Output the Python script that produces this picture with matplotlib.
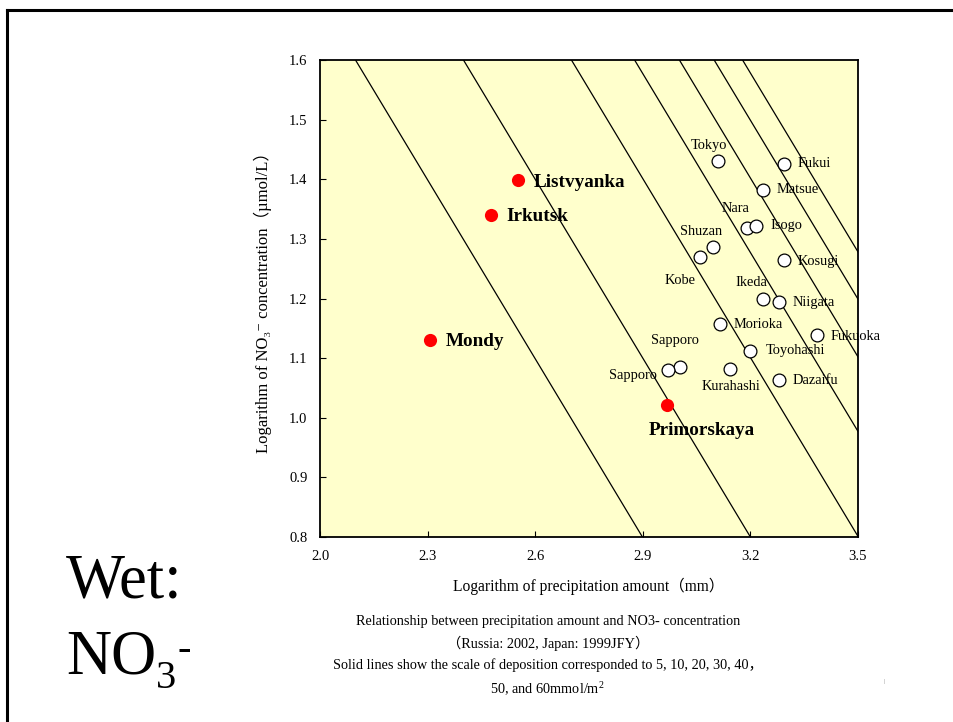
import matplotlib
matplotlib.use("Agg")
import matplotlib.pyplot as plt
from matplotlib.lines import Line2D
import numpy as np

SERIF = ["Liberation Serif", "Noto Sans CJK JP", "DejaVu Sans"]
plt.rcParams.update({
    "font.family": SERIF,
    "mathtext.fontset": "custom",
    "mathtext.rm": "Liberation Serif",
    "mathtext.it": "Liberation Serif:italic",
    "mathtext.bf": "Liberation Serif:bold",
})

# Russian sites (2002)
russia_sites = ["Listvyanka", "Irkutsk", "Mondy", "Primorskaya"]
russia_logp = [2.552, 2.477, 2.307, 2.967]
russia_logc = [1.399, 1.340, 1.130, 1.021]

# Japanese sites (1999 JFY)
japan_sites = ["Tokyo", "Fukui", "Matsue", "Nara", "Isogo", "Shuzan", "Kobe",
               "Kosugi", "Ikeda", "Niigata", "Morioka", "Fukuoka", "Toyohashi",
               "Sapporo", "Sapporo", "Kurahashi", "Dazaifu"]
japan_logp = [3.110, 3.294, 3.235, 3.190, 3.216, 3.096, 3.059,
              3.294, 3.235, 3.280, 3.115, 3.386, 3.199,
              3.004, 2.970, 3.143, 3.280]
japan_logc = [1.431, 1.426, 1.382, 1.318, 1.322, 1.286, 1.270,
              1.265, 1.199, 1.194, 1.157, 1.139, 1.112,
              1.085, 1.080, 1.082, 1.063]

# deposition isolines, mmol/m2
deposition = [5, 10, 20, 30, 40, 50, 60]

x_ticks = [2.0, 2.3, 2.6, 2.9, 3.2, 3.5]
y_ticks = [0.8, 0.9, 1.0, 1.1, 1.2, 1.3, 1.4, 1.5, 1.6]

# label offsets in points: (dx, dy, ha)
russia_offsets = [(11, -2, "left"), (11, -1, "left"), (11, -1, "left"), (25, -18, "center")]
japan_offsets = [(-7, 11, "center"), (10, 0, "left"), (10, 0, "left"), (-8, 14, "center"),
                 (10, 0, "left"), (-9, 11, "center"), (-14, -17, "center"), (10, -1, "left"),
                 (-8, 12, "center"), (10, 0, "left"), (10, 0, "left"), (10, -1, "left"),
                 (11, 0, "left"), (-4, 19, "center"), (-8, -4, "right"), (1, -13, "center"),
                 (10, 0, "left")]

W, H = 954, 722
fig = plt.figure(figsize=(W / 100, H / 100), dpi=100)
fig.patch.set_facecolor("white")

ax = fig.add_axes([320 / W, 1 - 537 / H, 538 / W, 477 / H])
ax.set_facecolor("#FFFFCC")
ax.set_xlim(2.0, 3.5)
ax.set_ylim(0.8, 1.6)

xs = np.array([2.0, 3.5])
for d in deposition:
    c = np.log10(d * 1000)
    ax.plot(xs, c - xs, color="black", lw=0.9, zorder=1)

ax.scatter(russia_logp, russia_logc, s=90, color="#FF0000", zorder=3, linewidths=0)
ax.scatter(japan_logp, japan_logc, s=85, facecolor="white", edgecolor="black",
           linewidths=0.9, zorder=3)

for name, x, y, (dx, dy, ha) in zip(russia_sites, russia_logp, russia_logc, russia_offsets):
    ax.annotate(name, (x, y), xytext=(dx, dy), textcoords="offset points",
                ha=ha, va="center", fontsize=13.8, fontweight="bold", zorder=4)
for name, x, y, (dx, dy, ha) in zip(japan_sites, japan_logp, japan_logc, japan_offsets):
    ax.annotate(name, (x, y), xytext=(dx, dy), textcoords="offset points",
                ha=ha, va="center", fontsize=10.4, zorder=4)

ax.set_xticks(x_ticks)
ax.set_xticklabels([f"{v:.1f}" for v in x_ticks])
ax.set_yticks(y_ticks)
ax.set_yticklabels([f"{v:.1f}" for v in y_ticks])
ax.tick_params(direction="in", length=4, width=0.8, labelsize=10.5, pad=9)
for sp in ax.spines.values():
    sp.set_linewidth(1.3)

ax.set_xlabel("Logarithm of precipitation amount（mm）", fontsize=11.2, labelpad=11)
ax.set_ylabel("Logarithm of NO₃⁻ concentration（µmol/L）", fontsize=12, labelpad=12)

caption = [
    "Relationship between precipitation amount and NO3- concentration",
    "（Russia: 2002, Japan: 1999JFY）",
    "Solid lines show the scale of deposition corresponded to 5, 10, 20, 30, 40，",
]
for i, line in enumerate(caption):
    fig.text(548 / W, 1 - (622 + 21.5 * i) / H, line, ha="center", va="center", fontsize=10.3)
fig.text(547 / W, 1 - 689 / H, r"50, and 60mmol/m$^2$", ha="center", va="center", fontsize=10.3)

# slide title
fig.text(66 / W, 1 - 597 / H, "Wet:", fontsize=45, ha="left", va="baseline")
fig.text(66 / W, 1 - 673 / H, "NO", fontsize=45, ha="left", va="baseline")
fig.text(156 / W, 1 - 688 / H, "3", fontsize=29, ha="left", va="baseline")
fig.text(178 / W, 1 - 660 / H, "-", fontsize=29, ha="left", va="baseline")
fig.text(884 / W, 1 - 681 / H, "|", fontsize=5, color="#888888", ha="center", va="center")

# slide frame
fig.add_artist(Line2D([7 / W, 1.0], [1 - 10 / H] * 2, color="black", lw=2.2))
fig.add_artist(Line2D([7 / W] * 2, [0.0, 1 - 10 / H], color="black", lw=2.2))

fig.savefig("out.png", dpi=100)
